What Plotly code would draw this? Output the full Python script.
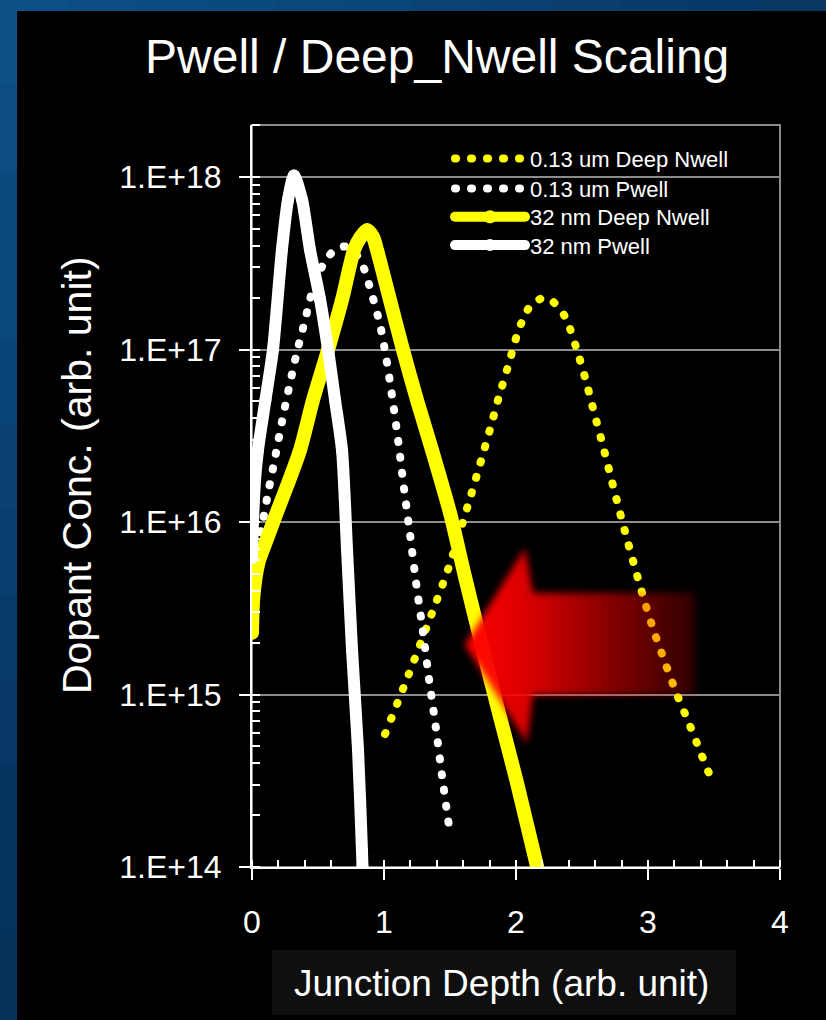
import plotly.graph_objects as go

# ---------------- data ----------------
x_deep_013 = [1.008, 1.189, 1.364, 1.492, 1.636, 1.740, 1.808, 1.873, 1.942, 2.010, 2.055, 2.116, 2.222,
              2.318, 2.384, 2.464, 2.532, 2.593, 2.657, 2.717, 2.778, 2.841, 2.907, 2.975, 3.048, 3.131,
              3.217, 3.311, 3.404, 3.495]
y_deep_013 = [5.9e14, 1.32e15, 2.97e15, 5.5e15, 1.25e16, 2.33e16, 3.56e16, 5.4e16, 8.1e16, 1.23e17, 1.51e17,
              1.82e17, 2.0e17, 1.78e17, 1.48e17, 9.8e16, 6.5e16, 4.27e16, 2.8e16, 1.84e16, 1.21e16, 7.96e15,
              5.24e15, 3.44e15, 2.29e15, 1.52e15, 1.01e15, 6.8e14, 4.5e14, 3.03e14]

x_pwell_013 = [0.030, 0.073, 0.119, 0.167, 0.235, 0.288, 0.341, 0.402, 0.462, 0.561, 0.649, 0.735, 0.831,
               0.907, 0.970, 1.015, 1.053, 1.104, 1.149, 1.197, 1.242, 1.293, 1.341, 1.392, 1.439, 1.490]
y_pwell_013 = [7.1e15, 9.35e15, 1.44e16, 2.2e16, 4.1e16, 6.4e16, 9.7e16, 1.48e17, 2.24e17, 3.33e17, 3.87e17,
               3.93e17, 3.17e17, 2.1e17, 1.39e17, 9.1e16, 5.9e16, 3.1e16, 1.62e16, 8.5e15, 4.5e15, 2.37e15,
               1.23e15, 6.5e14, 3.4e14, 1.78e14]

x_deep_32 = [0.0, 0.010, 0.048, 0.111, 0.187, 0.263, 0.364, 0.462, 0.576, 0.682, 0.773, 0.818, 0.871, 0.917,
             0.947, 1.045, 1.144, 1.250, 1.364, 1.500, 1.614, 1.750, 1.879, 2.008, 2.159]
y_deep_32 = [2.28e15, 3.67e15, 5.78e15, 7.87e15, 1.13e16, 1.6e16, 2.61e16, 5.09e16, 9.93e16, 1.94e17, 3.78e17,
             4.43e17, 4.93e17, 4.49e17, 3.78e17, 1.94e17, 9.93e16, 5.09e16, 2.61e16, 1.13e16, 4.8e15, 1.81e15,
             7.4e14, 3.07e14, 1.01e14]

x_pwell_32 = [0.0, 0.008, 0.023, 0.045, 0.102, 0.159, 0.227, 0.273, 0.318, 0.379, 0.439, 0.515, 0.576, 0.629,
              0.682, 0.720, 0.758, 0.803, 0.833, 0.837]
y_pwell_32 = [6.2e15, 1.02e16, 1.75e16, 2.6e16, 5.1e16, 1.0e17, 3.8e17, 7.4e17, 1.02e18, 7.4e17, 3.8e17,
              1.96e17, 1.0e17, 5.1e16, 2.6e16, 6.9e15, 1.8e15, 4.8e14, 1.25e14, 1.0e14]

# decorative arrow outline (data coordinates)
arrow_x = [1.614, 2.068, 2.129, 3.356, 3.356, 2.129, 2.083, 1.614]
arrow_y = [1.94e15, 7.07e15, 3.88e15, 3.88e15, 9.94e14, 9.94e14, 5.24e14, 1.94e15]

y_tickvals = [1e14, 1e15, 1e16, 1e17, 1e18]
y_ticktext = ["1.E+14", "1.E+15", "1.E+16", "1.E+17", "1.E+18"]
x_tickvals = [0, 1, 2, 3, 4]
x_ticktext = ["0", "1", "2", "3", "4"]

# ---------------- layout geometry (pixels) ----------------
W, H = 826, 1020
L, R, T, B = 252, 46, 125, 153
PW, PH = W - L - R, H - T - B


def px(xp):
    return (xp - L) / PW


def py(yp):
    return (H - B - yp) / PH


FONT = "Liberation Sans, Arial, sans-serif"
YEL = "#ffff00"
DOT = "1px,15px"

fig = go.Figure()

fig.add_trace(go.Scatter(x=x_deep_013, y=y_deep_013, mode="lines", name="0.13 um Deep Nwell", legend="legend",
                         line=dict(color=YEL, width=8, dash=DOT, shape="spline", smoothing=0.8)))
fig.add_trace(go.Scatter(x=x_pwell_013, y=y_pwell_013, mode="lines", name="0.13 um Pwell", legend="legend2",
                         line=dict(color="white", width=8, dash=DOT, shape="spline", smoothing=0.8)))
fig.add_trace(go.Scatter(x=x_deep_32, y=y_deep_32, mode="lines+markers", name="32 nm Deep Nwell",
                         legend="legend3",
                         line=dict(color=YEL, width=14, shape="spline", smoothing=0.7),
                         marker=dict(color=YEL, size=13)))
fig.add_trace(go.Scatter(x=x_pwell_32, y=y_pwell_32, mode="lines+markers", name="32 nm Pwell", legend="legend4",
                         line=dict(color="white", width=12, shape="spline", smoothing=0.7),
                         marker=dict(color="white", size=12)))
fig.add_trace(go.Scatter(x=arrow_x, y=arrow_y, mode="lines", fill="toself", showlegend=False,
                         hoverinfo="skip", line=dict(width=0, color="rgba(0,0,0,0)"),
                         fillgradient=dict(type="horizontal",
                                           colorscale=[[0, "rgba(255,0,0,1)"], [0.28, "rgba(245,0,0,0.88)"],
                                                       [0.55, "rgba(255,0,0,0.6)"], [1, "rgba(255,0,0,0.18)"]])))

shapes = []
# blue frame with gradient
n = 12
for i in range(n):
    t = i / (n - 1)
    c = (int(13 + (5 - 13) * t), int(80 + (48 - 80) * t), int(136 + (90 - 136) * t))
    shapes.append(dict(type="rect", xref="paper", yref="paper", layer="below",
                       x0=px(0), x1=px(17), y0=py(i * H / n), y1=py((i + 1) * H / n + 1),
                       fillcolor="rgb(%d,%d,%d)" % c, line=dict(width=0)))
    c2 = (int(13 + (8 - 13) * t), int(80 + (56 - 80) * t), int(136 + (100 - 136) * t))
    shapes.append(dict(type="rect", xref="paper", yref="paper", layer="below",
                       x0=px(i * W / n), x1=px((i + 1) * W / n + 1), y0=py(11), y1=py(0),
                       fillcolor="rgb(%d,%d,%d)" % c2, line=dict(width=0)))
# black panel
shapes.append(dict(type="rect", xref="paper", yref="paper", layer="below",
                   x0=px(17), x1=px(W + 5), y0=py(H + 5), y1=py(11),
                   fillcolor="black", line=dict(width=0)))
# x-title box
shapes.append(dict(type="rect", xref="paper", yref="paper", layer="below",
                   x0=px(272), x1=px(736), y0=py(1015), y1=py(950),
                   fillcolor="#0f0f0f", line=dict(width=0)))
# plot border (gray)
shapes.append(dict(type="rect", xref="paper", yref="paper", layer="below",
                   x0=0, x1=1, y0=0, y1=1, fillcolor="rgba(0,0,0,0)",
                   line=dict(color="#8c8c8c", width=2)))

annotations = [
    dict(text="Pwell / Deep_Nwell Scaling", xref="paper", yref="paper", x=px(437), y=py(57),
         xanchor="center", yanchor="middle", showarrow=False,
         font=dict(family=FONT, size=48, color="white")),
    dict(text="Dopant Conc. (arb. unit)", xref="paper", yref="paper", x=px(77), y=py(475),
         xanchor="center", yanchor="middle", showarrow=False, textangle=-90,
         font=dict(family=FONT, size=41, color="white")),
    dict(text="Junction Depth (arb. unit)", xref="paper", yref="paper", x=px(501), y=py(983),
         xanchor="center", yanchor="middle", showarrow=False,
         font=dict(family=FONT, size=37, color="white")),
]


def leg(center_y):
    return dict(x=px(450), y=py(center_y - 19), xanchor="left", yanchor="top", bgcolor="rgba(0,0,0,0)",
                font=dict(family=FONT, size=22, color="white"), itemwidth=70)


fig.update_layout(
    width=W, height=H,
    margin=dict(l=L, r=R, t=T, b=B, pad=0),
    paper_bgcolor="#0a4274", plot_bgcolor="black",
    shapes=shapes, annotations=annotations,
    showlegend=True,
    legend=leg(156.7), legend2=leg(186.7), legend3=leg(215), legend4=leg(243.3),
    xaxis=dict(range=[0, 4], tickvals=x_tickvals, ticktext=x_ticktext, showgrid=False, zeroline=False,
               showline=True, linecolor="white", linewidth=2, ticks="outside", ticklen=11,
               tickwidth=2, tickcolor="white", ticklabelstandoff=15,
               tickfont=dict(family=FONT, size=32, color="white"),
               minor=dict(dtick=0.2, ticks="inside", ticklen=7, tickwidth=1.5, tickcolor="white",
                          showgrid=False)),
    yaxis=dict(type="log", range=[14, 14 + PH / 172.5], tickvals=y_tickvals, ticktext=y_ticktext,
               showgrid=True, gridcolor="#8c8c8c", gridwidth=2, zeroline=False,
               showline=True, linecolor="white", linewidth=2, ticks="outside", ticklen=11,
               tickwidth=2, tickcolor="white", ticklabelstandoff=11,
               tickfont=dict(family=FONT, size=32, color="white"),
               minor=dict(dtick="D1", ticks="inside", ticklen=8, tickwidth=1.5, tickcolor="white",
                          showgrid=False)),
)

post = """
var s = document.createElement('style');
s.innerHTML = 'path.js-line{stroke-linecap:round !important;stroke-linejoin:round !important;} path.js-fill{filter:url(#arrowblur);}';
document.head.appendChild(s);
var d = document.createElement('div');
d.style.position='absolute'; d.style.width='0'; d.style.height='0'; d.style.overflow='hidden';
d.innerHTML = '<svg width="0" height="0"><defs><filter id="arrowblur" x="-20%" y="-20%" width="140%" height="140%"><feGaussianBlur stdDeviation="3.5"/></filter></defs></svg>';
document.body.appendChild(d);
"""

fig.write_html("out.html", post_script=post)
